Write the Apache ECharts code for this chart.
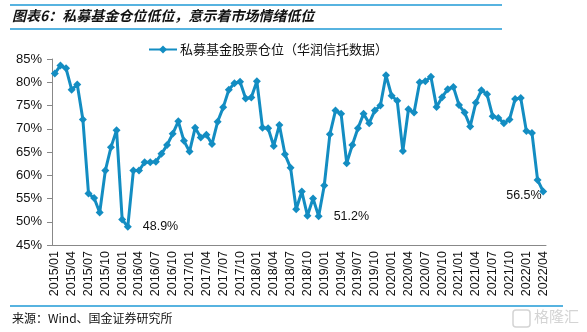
<!DOCTYPE html>
<html><head><meta charset="utf-8">
<script src="https://cdn.jsdelivr.net/npm/echarts@6/dist/echarts.min.js"></script>
<style>html,body{margin:0;padding:0;background:#fff}#c{width:587px;height:332px}</style>
</head><body><div id="c"></div>
<script>
const titleText = '图表6：私募基金仓位低位，意示着市场情绪低位';
const sourceText = '来源：Wind、国金证券研究所';
const seriesName = '私募基金股票仓位（华润信托数据）';
const startYear = 2015, monthCount = 88;
const categories = [];
for (let i = 0; i < monthCount; i++) {
  const y = startYear + Math.floor(i / 12), m = (i % 12) + 1;
  categories.push(y + '/' + (m < 10 ? '0' + m : m));
}
const positionValues = [
  81.9, 83.6, 83.0, 78.4, 79.5, 72.0, 56.1, 55.1, 52.0, 61.0, 66.0, 69.7,
  50.5, 48.9, 61.0, 61.0, 62.8, 62.8, 62.9, 64.6, 66.5, 68.9, 71.6, 67.4,
  65.1, 70.2, 68.1, 68.7, 66.7, 71.5, 74.6, 78.4, 79.8, 80.1, 76.5, 76.7,
  80.2, 70.2, 70.1, 66.3, 70.8, 64.5, 61.6, 52.7, 56.5, 51.3, 55.0, 51.2,
  57.8, 68.8, 73.9, 73.2, 62.6, 66.5, 70.1, 73.2, 71.2, 73.9, 75.0, 81.5,
  77.1, 76.0, 65.2, 74.2, 73.5, 80.0, 80.2, 81.2, 74.7, 76.8, 78.5, 79.0,
  75.1, 73.5, 70.5, 75.6, 78.3, 77.4, 72.7, 72.3, 71.2, 72.0, 76.4, 76.6,
  69.5, 69.1, 59.0, 56.5
];
const annotated = { 13: 'right', 47: 'right', 87: 'below-left' };

const blue = '#1f9ad6';
const lineColor = '#138dc2';
const data = positionValues.map((v, i) => {
  if (!(i in annotated)) return v;
  const pos = annotated[i];
  return {
    value: v,
    label: {
      show: true,
      formatter: v.toFixed(1) + '%',
      position: pos === 'right' ? 'right' : [-33, 2],
      distance: 11,
      offset: [0, 1],
      color: '#111', fontSize: 12.5, fontFamily: 'Liberation Sans, Arial, sans-serif'
    }
  };
});

const chart = echarts.init(document.getElementById('c'));
chart.setOption({
  animation: false,
  backgroundColor: '#fff',
  grid: { left: 52, right: 41, top: 59, bottom: 87 },
  legend: {
    top: 38, left: 143,
    itemWidth: 28, itemHeight: 10, itemGap: 4,
    textStyle: { color: '#111', fontSize: 13, fontFamily: 'Noto Sans CJK SC, sans-serif', padding: [0, 0, 0, -2] },
    data: [seriesName]
  },
  xAxis: {
    type: 'category',
    data: categories,
    boundaryGap: true,
    axisLine: { lineStyle: { color: '#888', width: 1 } },
    axisTick: { interval: 2, length: 5, lineStyle: { color: '#888' } },
    axisLabel: { interval: 2, rotate: 90, color: '#111', fontSize: 12.5, margin: 6,
      fontFamily: 'Liberation Sans, Arial, sans-serif' }
  },
  yAxis: {
    type: 'value',
    min: 45, max: 85, interval: 5,
    splitLine: { show: false },
    axisLine: { show: true, lineStyle: { color: '#888', width: 1 } },
    axisTick: { show: true, length: 5, lineStyle: { color: '#888' } },
    axisLabel: { formatter: '{value}%', color: '#111', fontSize: 13, margin: 10,
      fontFamily: 'Liberation Sans, Arial, sans-serif' }
  },
  series: [{
    name: seriesName,
    type: 'line',
    data: data,
    symbol: 'diamond',
    symbolSize: 8,
    showAllSymbol: true,
    lineStyle: { color: lineColor, width: 3 },
    itemStyle: { color: lineColor },
    labelLayout: { hideOverlap: false },
    z: 3
  }],
  graphic: [
    { type: 'line', shape: { x1: 10, y1: 5, x2: 502, y2: 5 }, style: { stroke: blue, lineWidth: 1.5 } },
    { type: 'text', left: 12, top: 9, style: { text: titleText, fill: '#111',
      font: 'italic bold 14px "Noto Sans CJK SC", sans-serif' } },
    { type: 'line', shape: { x1: 10, y1: 29, x2: 502, y2: 29 }, style: { stroke: blue, lineWidth: 1.5 } },
    { type: 'line', shape: { x1: 10, y1: 306, x2: 563, y2: 306 }, style: { stroke: blue, lineWidth: 1.5 } },
    { type: 'text', left: 12, top: 312, style: { text: sourceText, fill: '#111',
      font: '12px "Noto Sans CJK SC", sans-serif' } },
    { type: 'text', left: 534, top: 309, style: { text: '格隆汇', fill: '#d4d4d4',
      font: '15px "Noto Sans CJK SC", sans-serif' } },
    { type: 'rect', shape: { x: 513, y: 310, width: 17, height: 17, r: 3 },
      style: { fill: 'none', stroke: '#d4d4d4', lineWidth: 1.5 } }
  ]
});
</script></body></html>
